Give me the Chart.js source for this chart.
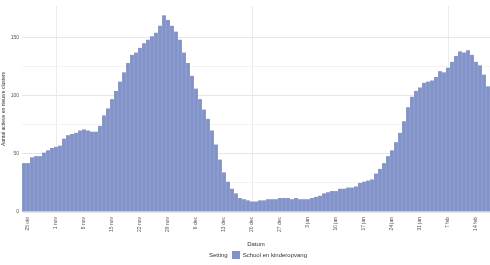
<!DOCTYPE html>
<html>
<head>
<meta charset="utf-8">
<script src="https://cdn.jsdelivr.net/npm/chart.js@4"></script>
<style>
  html, body { margin: 0; padding: 0; background: #fff; }
  .wrap { position: relative; width: 490px; height: 265px; }
  .legend { position: absolute; left: 0; width: 516px; top: 251px; text-align: center;
            font: 6px "Liberation Sans", Arial, sans-serif; color: #333; }
  .legend .box { display: inline-block; width: 8px; height: 8px; background: #8193c9;
                 vertical-align: middle; margin: 0 3px 0 4px; }
  .legend span { vertical-align: middle; }
</style>
</head>
<body>
<div class="wrap">
  <canvas id="c" width="490" height="265"></canvas>
  <div class="legend"><span>Setting</span><span class="box"></span><span>School en kinderopvang</span></div>
</div>
<script>
// daily dates, 24 okt .. 16 feb
const MONTHS = ['jan','feb','mrt','apr','mei','jun','jul','aug','sep','okt','nov','dec'];
const dates = [];
for (let d = new Date(2021, 9, 24); dates.length < 117; d.setDate(d.getDate() + 1)) {
  dates.push(d.getDate() + ' ' + MONTHS[d.getMonth()]);
}

// active clusters per day
const clusters = [
  42, 42, 47, 48, 48, 51, 53, 55, 56, 57,
  63, 66, 67, 68, 70, 71, 70, 69, 69, 74,
  83, 89, 97, 104, 112, 120, 128, 135, 137, 141,
  145, 148, 151, 154, 160, 169, 165, 160, 155, 148,
  137, 128, 117, 106, 97, 88, 80, 70, 58, 45,
  34, 26, 20, 16, 12, 11, 10, 9, 9, 10,
  10, 11, 11, 11, 12, 12, 12, 11, 12, 11,
  11, 11, 12, 13, 14, 16, 17, 18, 18, 20,
  20, 21, 21, 22, 25, 26, 27, 28, 33, 37,
  42, 48, 53, 60, 68, 78, 90, 99, 104, 107,
  111, 112, 113, 116, 121, 120, 124, 129, 134, 138,
  137, 139, 135, 129, 126, 118, 108
];

const yTicks = [0, 50, 100, 150];
const TICK_EVERY = 7, TICK_START = 1;
const isTick = i => (i - TICK_START) % TICK_EVERY === 0 && i >= TICK_START;

new Chart(document.getElementById('c'), {
  type: 'bar',
  data: {
    labels: dates,
    datasets: [{
      label: 'School en kinderopvang',
      data: clusters,
      backgroundColor: '#8193c9',
      borderWidth: 0,
      barPercentage: 1,
      categoryPercentage: 0.96
    }]
  },
  options: {
    responsive: false,
    animation: false,
    layout: { padding: { top: 3, bottom: 17, left: 0, right: 0 } },
    plugins: { legend: { display: false }, tooltip: { enabled: false } },
    scales: {
      x: {
        afterFit: s => { s.height = 36; },
        grid: {
          offset: false,
          drawTicks: false,
          color: ctx => isTick(ctx.index) ? '#ebebeb' : 'rgba(0,0,0,0)'
        },
        border: { display: false },
        ticks: {
          autoSkip: false,
          minRotation: 90, maxRotation: 90,
          padding: 5,
          font: { size: 5, family: 'Liberation Sans' },
          color: '#555',
          callback: (v, i) => isTick(i) ? dates[i] : null
        },
        title: { display: true, text: 'Datum', padding: 0,
                 font: { size: 6, family: 'Liberation Sans' }, color: '#333' }
      },
      y: {
        min: 0, max: 177,
        afterFit: s => { s.width = 22; },
        afterBuildTicks: s => { s.ticks = [0, 25, 50, 75, 100, 125, 150].map(v => ({ value: v })); },
        grid: {
          drawTicks: false,
          color: ctx => yTicks.includes(ctx.tick.value) ? '#e6e6e6' : '#f3f3f3'
        },
        border: { display: false },
        ticks: {
          padding: 3,
          font: { size: 5, family: 'Liberation Sans' },
          color: '#555',
          callback: v => yTicks.includes(v) ? v : ''
        },
        title: { display: true, text: 'Aantal actieve en nieuwe clusters', padding: 1,
                 font: { size: 5, family: 'Liberation Sans' }, color: '#333' }
      }
    }
  }
});
</script>
</body>
</html>
